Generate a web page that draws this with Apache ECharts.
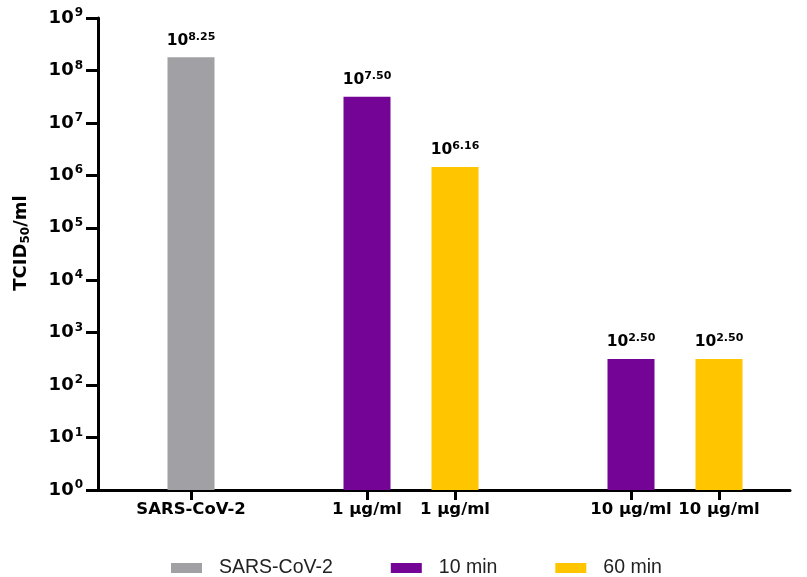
<!DOCTYPE html>
<html>
<head>
<meta charset="utf-8">
<script src="https://cdn.jsdelivr.net/npm/echarts@6/dist/echarts.min.js"></script>
<style>
  html, body { margin: 0; padding: 0; background: #fff; }
  #chart { width: 807px; height: 577px; }
</style>
</head>
<body>
<div id="chart"></div>
<script>
// Category slots along the x axis; empty names are spacer slots between groups.
const categories = ['SARS-CoV-2', '', '1 \u03bcg/ml', '1 \u03bcg/ml', '', '10 \u03bcg/ml', '10 \u03bcg/ml'];
// Titres as base-10 exponents (TCID50/ml = 10^exp); null = no bar in that slot.
const virusExp = [8.25, null, null, null, null, null, null];
const min10Exp = [null, null, 7.50, null, null, 2.50, null];
const min60Exp = [null, null, null, 6.16, null, null, 2.50];
const seriesNames = ['SARS-CoV-2', '10 min', '60 min'];
const seriesColors = ['#A1A0A5', '#740495', '#FFC600'];
// Log axis range, as exponents.
const yMinExp = 0;
const yMaxExp = 9;

const BOLD = "'DejaVu Sans', 'Liberation Sans', Arial, sans-serif";
const PLAIN = "'Liberation Sans', Arial, Helvetica, sans-serif";

function toValues(exps) {
  return exps.map(e => (e == null ? '-' : Math.pow(10, e)));
}

function barSeries(name, exps, color) {
  return {
    name: name,
    type: 'bar',
    xAxisIndex: 1,
    yAxisIndex: 1,
    barWidth: 47,
    barGap: '-100%',
    data: toValues(exps),
    itemStyle: { color: color },
    label: {
      show: true,
      position: 'top',
      distance: 7,
      formatter: p => '{b|10}{s|' + exps[p.dataIndex].toFixed(2) + '}',
      rich: {
        b: { fontFamily: BOLD, fontWeight: 'bold', fontSize: 15.5, color: '#000', lineHeight: 19, verticalAlign: 'middle' },
        s: { fontFamily: BOLD, fontWeight: 'bold', fontSize: 11, color: '#000', lineHeight: 11, verticalAlign: 'top' }
      }
    }
  };
}

const chart = echarts.init(document.getElementById('chart'), null, { renderer: 'canvas' });

const logAxisCommon = {
  type: 'log',
  logBase: 10,
  min: Math.pow(10, yMinExp),
  max: Math.pow(10, yMaxExp),
  splitLine: { show: false },
  minorTick: { show: false }
};

chart.setOption({
  animation: false,
  backgroundColor: '#fff',
  grid: [
    // frame grid: carries the drawn axes
    { left: 98, right: 17, top: 18, bottom: 87, containLabel: false },
    // bar grid: same vertical extent, narrower horizontal span for the category slots
    { left: 147, right: 44, top: 18, bottom: 87, containLabel: false }
  ],
  xAxis: [
    {
      gridIndex: 0,
      type: 'value',
      min: 0,
      max: 1,
      axisLine: { show: true, onZero: false, lineStyle: { color: '#000', width: 3 } },
      axisTick: { show: false },
      axisLabel: { show: false },
      splitLine: { show: false }
    },
    {
      gridIndex: 1,
      type: 'category',
      data: categories,
      axisLine: { show: false },
      axisTick: {
        show: true,
        alignWithLabel: true,
        length: 10,
        interval: (i, v) => v !== '',
        lineStyle: { color: '#000', width: 3 }
      },
      axisLabel: {
        interval: 0,
        margin: 11,
        fontFamily: BOLD,
        fontWeight: 'bold',
        fontSize: 16.5,
        color: '#000'
      },
      splitLine: { show: false }
    }
  ],
  yAxis: [
    Object.assign({}, logAxisCommon, {
      gridIndex: 0,
      name: '{a|TCID}{sub|50}{a|/ml}',
      nameLocation: 'middle',
      nameRotate: 90,
      nameGap: 66,
      nameTextStyle: {
        padding: [0, 0, 0, 22],
        rich: {
          a: { fontFamily: BOLD, fontWeight: 'bold', fontSize: 18, color: '#000', lineHeight: 22, verticalAlign: 'middle' },
          sub: { fontFamily: BOLD, fontWeight: 'bold', fontSize: 12, color: '#000', lineHeight: 12, verticalAlign: 'bottom' }
        }
      },
      axisLine: { show: true, lineStyle: { color: '#000', width: 3 } },
      axisTick: { show: true, length: 12, lineStyle: { color: '#000', width: 3 } },
      axisLabel: {
        margin: 15,
        formatter: v => '{b|10}{s|' + Math.round(Math.log10(v)) + '}',
        rich: {
          b: { fontFamily: BOLD, fontWeight: 'bold', fontSize: 18, color: '#000', lineHeight: 22, verticalAlign: 'middle' },
          s: { fontFamily: BOLD, fontWeight: 'bold', fontSize: 12, color: '#000', lineHeight: 12, verticalAlign: 'top', padding: [0, 0, 0, 1] }
        }
      }
    }),
    Object.assign({}, logAxisCommon, {
      gridIndex: 1,
      show: false
    })
  ],
  legend: {
    data: seriesNames,
    left: 166,
    top: 553,
    icon: 'rect',
    itemWidth: 31,
    itemHeight: 10,
    itemGap: 58,
    textStyle: { fontFamily: PLAIN, fontSize: 19.5, color: '#222', padding: [0, 0, 0, 12] }
  },
  series: [
    barSeries(seriesNames[0], virusExp, seriesColors[0]),
    barSeries(seriesNames[1], min10Exp, seriesColors[1]),
    barSeries(seriesNames[2], min60Exp, seriesColors[2])
  ]
});
</script>
</body>
</html>
